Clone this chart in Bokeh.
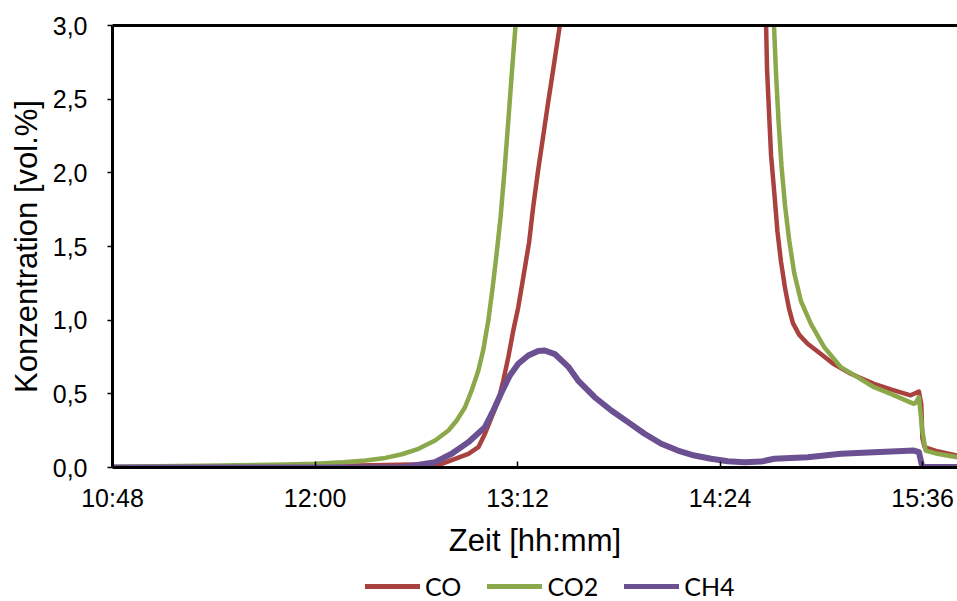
from bokeh.plotting import figure
from bokeh.layouts import column
from bokeh.models import (ColumnDataSource, FixedTicker, LinearAxis, Legend, LegendItem, Range1d)
from bokeh.embed import file_html
from bokeh.resources import INLINE

# ---- data ----
co_time = ["10:48:00", "11:30:00", "12:00:00", "12:20:00", "12:35:00", "12:45:03", "12:54:31",
           "12:58:04", "13:00:25", "13:02:47", "13:05:10", "13:06:56", "13:08:43", "13:10:29",
           "13:12:15", "13:14:02", "13:16:07", "13:17:34", "13:19:20", "13:21:07", "13:22:53",
           "13:24:40", "13:27:01", "13:27:58", "14:00:00",
           "14:39:17", "14:40:21", "14:40:42", "14:41:25", "14:42:07", "14:43:20", "14:44:24",
           "14:45:38", "14:47:04", "14:48:29", "14:49:54", "14:52:08", "14:55:07", "14:59:50",
           "15:04:33", "15:10:28", "15:18:44", "15:24:40", "15:31:45", "15:34:41", "15:35:32",
           "15:35:54", "15:36:43", "15:41:13", "15:48:19"]
co_val = [0.0, 0.003, 0.008, 0.015, 0.02, 0.025, 0.093,
          0.138, 0.229, 0.342, 0.455, 0.591, 0.749, 0.93,
          1.088, 1.29, 1.53, 1.77, 2.02, 2.25, 2.48,
          2.70, 3.0, 3.2, None,
          3.25, 3.0, 2.70, 2.40, 2.12, 1.85, 1.60,
          1.40, 1.22, 1.08, 0.98, 0.90, 0.84, 0.77,
          0.70, 0.636, 0.568, 0.53, 0.49, 0.515, 0.43,
          0.20, 0.138, 0.11, 0.081]

co2_time = ["10:48:00", "11:20:00", "11:50:00", "12:00:00", "12:10:00", "12:18:00", "12:25:00",
            "12:30:52", "12:36:47", "12:42:40", "12:47:25", "12:50:22", "12:53:19", "12:55:41",
            "12:58:04", "12:59:50", "13:01:37", "13:03:08", "13:04:33", "13:05:58", "13:07:23",
            "13:08:49", "13:10:03", "13:11:17", "13:12:22", "14:00:00",
            "14:42:44", "14:43:10", "14:43:52", "14:44:45", "14:45:49", "14:47:04", "14:48:35",
            "14:50:21", "14:52:44", "14:56:17", "15:01:00", "15:06:55", "15:12:50", "15:18:44",
            "15:24:40", "15:32:55", "15:33:31", "15:34:41", "15:35:54", "15:37:04", "15:41:13",
            "15:48:19"]
co2_val = [0.005, 0.012, 0.02, 0.025, 0.035, 0.048, 0.065,
           0.09, 0.127, 0.183, 0.251, 0.319, 0.409, 0.523,
           0.658, 0.80, 1.0, 1.22, 1.45, 1.70, 2.02,
           2.38, 2.70, 3.0, 3.2, None,
           3.25, 3.0, 2.68, 2.36, 2.05, 1.78, 1.54,
           1.32, 1.13, 0.975, 0.817, 0.681, 0.613, 0.545,
           0.50, 0.432, 0.44, 0.477, 0.25, 0.115, 0.093,
           0.07]

ch4_time = ["10:48:00", "12:00:00", "12:30:52", "12:42:40", "12:48:35", "12:54:31", "13:00:25",
            "13:03:23", "13:06:20", "13:09:16", "13:12:15", "13:15:48", "13:19:20", "13:21:41",
            "13:25:14", "13:29:59", "13:33:32", "13:39:25", "13:45:20", "13:51:16", "13:57:09",
            "14:03:05", "14:09:00", "14:14:53", "14:20:49", "14:26:44", "14:32:37", "14:38:33",
            "14:43:16", "14:55:07", "15:06:55", "15:18:44", "15:32:55", "15:34:41", "15:35:54",
            "15:48:24"]
ch4_val = [0.0, 0.0, 0.0, 0.036, 0.093, 0.172, 0.274,
           0.387, 0.511, 0.625, 0.704, 0.760, 0.79, 0.794,
           0.77, 0.685, 0.59, 0.477, 0.387, 0.308, 0.229,
           0.161, 0.115, 0.081, 0.059, 0.043, 0.036, 0.04,
           0.059, 0.07, 0.093, 0.104, 0.115, 0.104, 0.003,
           0.003]

x_tick_labels = ["10:48", "12:00", "13:12", "14:24", "15:36"]
x_end_label = "15:48:24"
y_ticks = [0.0, 0.5, 1.0, 1.5, 2.0, 2.5, 3.0]
y_tick_labels = ["0,0", "0,5", "1,0", "1,5", "2,0", "2,5", "3,0"]

series_names = ["CO", "CO2", "CH4"]
series_colors = ["#A9423F", "#8BA84B", "#6B5191"]
series_widths = [4.5, 4.5, 6]


def to_min(t):
    parts = [float(v) for v in t.split(":")]
    while len(parts) < 3:
        parts.append(0.0)
    return parts[0] * 60 + parts[1] + parts[2] / 60.0


def vals(v):
    return [float("nan") if a is None else a for a in v]


x_ticks = [to_min(t) for t in x_tick_labels]

W = 957
LEGEND_H = 41

p = figure(width=W, height=601 - LEGEND_H, output_backend="svg", toolbar_location=None,
           x_range=Range1d(x_ticks[0], to_min(x_end_label)), y_range=Range1d(0, 3.0),
           min_border_left=112, min_border_right=0, min_border_top=25, min_border_bottom=93)
p.outline_line_color = None
p.background_fill_color = "white"
p.border_fill_color = "white"
p.xgrid.visible = False
p.ygrid.visible = False

TXT = "Liberation Sans"

xa = p.xaxis[0]
xa.ticker = FixedTicker(ticks=x_ticks, minor_ticks=[])
xa.major_label_overrides = {t: l for t, l in zip(x_ticks, x_tick_labels)}
xa.major_tick_in = 6
xa.major_tick_out = 0
xa.major_tick_line_width = 1.5
xa.minor_tick_line_color = None
xa.axis_line_width = 3
xa.axis_line_color = "black"
xa.major_label_text_font = TXT
xa.major_label_text_font_size = "25px"
xa.major_label_text_color = "black"
xa.major_label_standoff = 16
xa.axis_label = "Zeit [hh:mm]"
xa.axis_label_text_font = TXT
xa.axis_label_text_font_size = "31px"
xa.axis_label_text_font_style = "normal"
xa.axis_label_text_color = "black"
xa.axis_label_standoff = 8

ya = p.yaxis[0]
ya.ticker = FixedTicker(ticks=y_ticks, minor_ticks=[])
ya.major_label_overrides = {t: l for t, l in zip(y_ticks, y_tick_labels)}
ya.major_tick_in = 0
ya.major_tick_out = 5
ya.major_tick_line_width = 1.5
ya.minor_tick_line_color = None
ya.axis_line_width = 3
ya.axis_line_color = "black"
ya.major_label_text_font = TXT
ya.major_label_text_font_size = "25px"
ya.major_label_text_color = "black"
ya.major_label_standoff = 20
ya.axis_label = "Konzentration [vol.%]"
ya.axis_label_text_font = TXT
ya.axis_label_text_font_size = "31px"
ya.axis_label_text_font_style = "normal"
ya.axis_label_text_color = "black"
ya.axis_label_standoff = 6

top = LinearAxis(ticker=FixedTicker(ticks=[]), major_tick_in=0, major_tick_out=0,
                 major_label_text_font_size="0px", axis_line_width=3, axis_line_color="black")
top.minor_tick_line_color = None
p.add_layout(top, "above")

for color, t, v, w in zip(series_colors, [co_time, co2_time, ch4_time],
                          [co_val, co2_val, ch4_val], series_widths):
    src = ColumnDataSource(dict(x=[to_min(s) for s in t], y=vals(v)))
    p.line("x", "y", source=src, line_color=color, line_width=w, line_join="round",
           line_cap="round")

# ---- legend strip below the chart ----
lg = figure(width=W, height=LEGEND_H, output_backend="svg", toolbar_location=None,
            x_range=Range1d(0, 1), y_range=Range1d(0, 1),
            x_axis_location=None, y_axis_location=None,
            min_border_left=112, min_border_right=0, min_border_top=0, min_border_bottom=0)
lg.grid.visible = False
lg.outline_line_color = None
lg.background_fill_color = "white"
lg.border_fill_color = "white"
items = []
nan = float("nan")
for name, color in zip(series_names, series_colors):
    # placeholder renderer (no visible data) that only supplies the legend swatch
    r = lg.line(x=[nan], y=[nan], line_color=color, line_width=5, line_cap="round")
    items.append(LegendItem(label=name, renderers=[r]))
legend = Legend(items=items, orientation="horizontal", location=(253, 0),
                glyph_width=55, glyph_height=14, label_height=14, label_standoff=5, spacing=26,
                padding=0, margin=0, border_line_color=None, background_fill_alpha=0,
                label_text_font="Lato", label_text_font_size="25px", label_text_color="black")
lg.add_layout(legend, "center")

layout = column(p, lg, spacing=0)
open("out.html", "w").write(file_html(layout, INLINE))
